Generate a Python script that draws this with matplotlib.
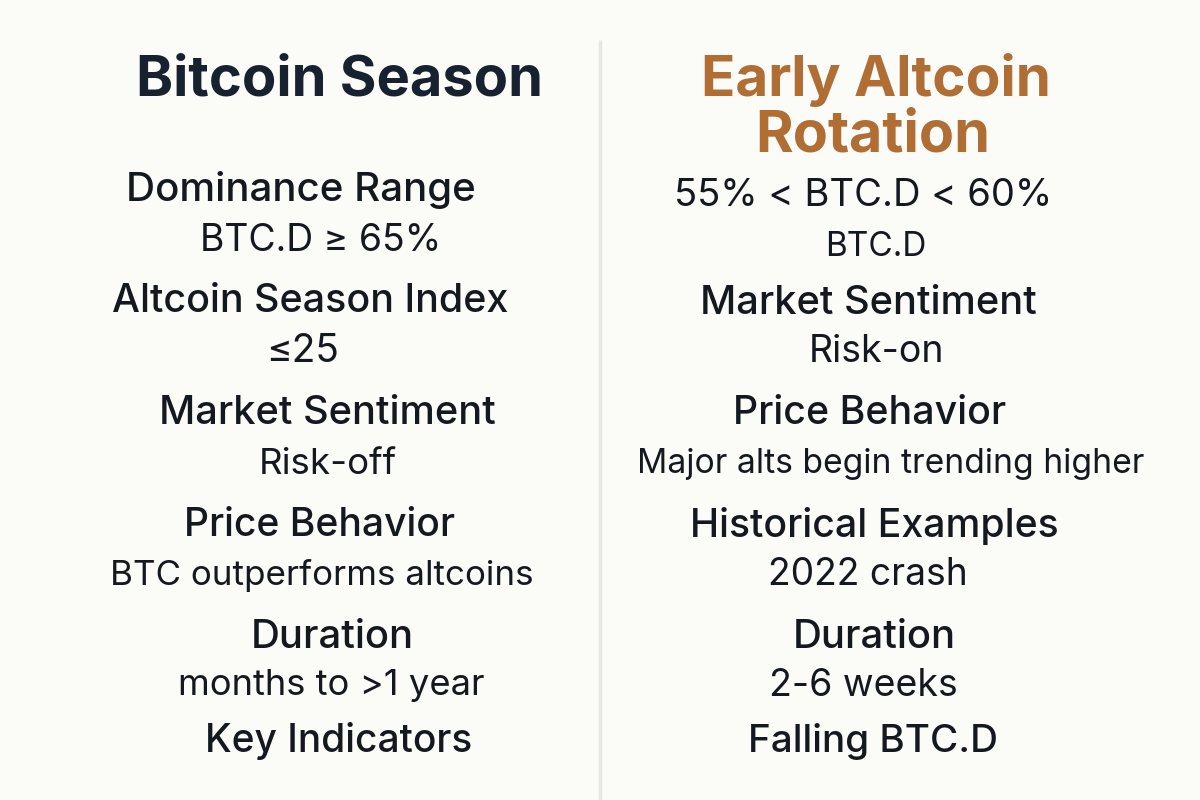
import matplotlib.pyplot as plt

# colours
BG = '#fbfbf8'
NAVY = '#17212f'
DARK = '#14181f'
ORANGE = '#b06d34'
LINE = '#e6e6e3'

# text of each column: (label, centre x px, centre y px, size, weight)
left_title = ('Bitcoin Season', 340, 81, 40.4)
right_title = [('Early Altcoin', 876, 80, 40.8), ('Rotation', 873, 137, 41.4)]

left_rows = [
    ('Dominance Range', 301, 190, 29, 'medium'),
    ('BTC.D ≥ 65%', 321, 241, 26.9, 'normal'),
    ('Altcoin Season Index', 310, 302, 28.4, 'medium'),
    ('≤25', 303, 352, 28, 'normal'),
    ('Market Sentiment', 327, 414, 28.6, 'medium'),
    ('Risk-off', 328, 464, 26.4, 'normal'),
    ('Price Behavior', 319, 526, 28.1, 'medium'),
    ('BTC outperforms altcoins', 322, 575, 25.2, 'normal'),
    ('Duration', 332, 637, 28.8, 'medium'),
    ('months to >1 year', 331, 686, 26.2, 'normal'),
    ('Key Indicators', 339, 741, 28, 'medium'),
]
right_rows = [
    ('55% < BTC.D < 60%', 863, 196, 27.5, 'normal'),
    ('BTC.D', 876, 247, 24, 'normal'),
    ('Market Sentiment', 868, 303, 28.6, 'medium'),
    ('Risk-on', 877, 352, 27, 'normal'),
    ('Price Behavior', 870, 414, 28.3, 'medium'),
    ('Major alts begin trending higher', 891, 464, 24.2, 'normal'),
    ('Historical Examples', 874, 526, 28.2, 'medium'),
    ('2022 crash', 868, 575, 26.8, 'normal'),
    ('Duration', 874, 637, 28.8, 'medium'),
    ('2-6 weeks', 863, 686, 27, 'normal'),
    ('Falling BTC.D', 873, 741, 27.8, 'medium'),
]

plt.rcParams['font.family'] = ['Inter', 'DejaVu Sans']

fig = plt.figure(figsize=(12, 8), dpi=100, facecolor=BG)
ax = fig.add_axes([0, 0, 1, 1])
ax.set_xlim(0, 1200)
ax.set_ylim(800, 0)
ax.axis('off')

ax.plot([600, 600], [40, 800], color=LINE, lw=2.5, solid_capstyle='butt')

t, x, y, s = left_title
ax.text(x, y, t, ha='center', va='center', fontsize=s, fontweight='bold', color=NAVY)
for t, x, y, s in right_title:
    ax.text(x, y, t, ha='center', va='center', fontsize=s, fontweight='bold', color=ORANGE)

for t, x, y, s, w in left_rows + right_rows:
    ax.text(x, y, t, ha='center', va='center', fontsize=s, fontweight=w, color=DARK)

fig.savefig('out.png', dpi=100, facecolor=BG)
